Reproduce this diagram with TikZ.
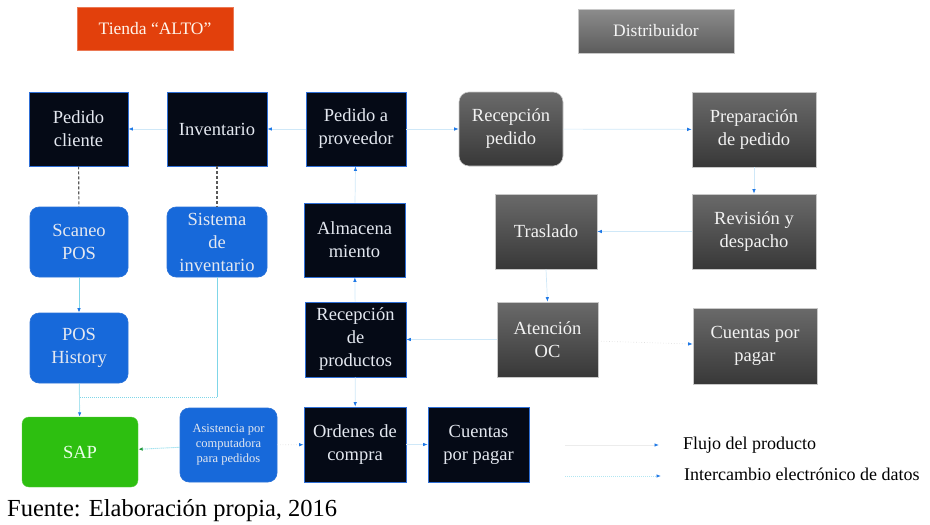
\documentclass[tikz,border=0pt]{standalone}
\usepackage{fontspec}
\setmainfont{Liberation Serif}
\usetikzlibrary{arrows.meta}
\definecolor{navybox}{HTML}{050A16}
\definecolor{navyedge}{HTML}{2F6FD6}
\definecolor{boxtext}{HTML}{E4E8F0}
\definecolor{bluefill}{HTML}{1769DA}
\definecolor{blueedge}{HTML}{2A72D8}
\definecolor{sapgreen}{HTML}{2DBF10}
\definecolor{tiendared}{HTML}{E2400C}
\definecolor{flowline}{HTML}{CFE8F8}
\definecolor{dataline}{HTML}{7FD6E8}
\definecolor{tipblue}{HTML}{1E78E6}
\definecolor{tipgreen}{HTML}{1F9A3A}
\definecolor{grayedge}{HTML}{C8C8C8}
\definecolor{graytop}{HTML}{6A6A6A}
\definecolor{graybot}{HTML}{383838}
\definecolor{disttop}{HTML}{8C8C8C}
\definecolor{distbot}{HTML}{5C5C5C}
\tikzset{
  base/.style={align=center, inner sep=2pt, font=\fontsize{18.5}{23}\selectfont},
  darkbox/.style={base, fill=navybox, draw=navyedge, line width=0.8pt, text=boxtext},
  bluebox/.style={base, fill=bluefill, draw=blueedge, line width=0.6pt, rounded corners=9pt, text=boxtext},
  graybox/.style={base, top color=graytop, bottom color=graybot, draw=grayedge, line width=0.6pt, text=white!90!gray},
  tip/.style={-{Latex[length=4.5pt,width=3.5pt,color=tipblue]}},
  flow/.style={draw=flowline, line width=0.7pt, tip},
  dataline style/.style={draw=dataline, line width=0.9pt, dash pattern=on 1.2pt off 0.8pt},
  data/.style={dataline style, tip},
  link/.style={draw=gray!70!black, line width=1.1pt, dash pattern=on 3pt off 2pt},
}
\begin{document}
\begin{tikzpicture}[x=1pt, y=-1pt]
\useasboundingbox (0,0) rectangle (930,525);

% headers
\node[base, fill=tiendared, draw=tiendared!70!white, text=white!92!orange, minimum width=156pt, minimum height=43pt, font=\fontsize{17.5}{20}\selectfont] (tienda) at (155,28.5) {Tienda “ALTO”};
\node[base, top color=disttop, bottom color=distbot, draw=grayedge, text=white!92!gray, minimum width=156pt, minimum height=44pt, font=\fontsize{17.5}{20}\selectfont] (dist) at (656,31) {Distribuidor};

% store side
\node[darkbox, minimum width=99pt, minimum height=74pt] (pc) at (78.5,129) {Pedido\\cliente};
\node[darkbox, minimum width=100pt, minimum height=74pt] (inv) at (217,129) {Inventario};
\node[darkbox, minimum width=100pt, minimum height=74pt] (pp) at (356,129) {Pedido a\\proveedor};
\node[bluebox, minimum width=98pt, minimum height=70pt] (scan) at (79,242) {Scaneo\\POS};
\node[bluebox, minimum width=100pt, minimum height=70pt] (sis) at (217,242) {Sistema\\de\\inventario};
\node[darkbox, minimum width=101pt, minimum height=74pt] (alm) at (354.5,240) {Almacena\\miento};
\node[bluebox, minimum width=98pt, minimum height=70pt] (posh) at (79,348) {POS\\History};
\node[darkbox, minimum width=101pt, minimum height=75pt] (rdp) at (355.5,339.5) {Recepción\\de\\productos};
\node[base, fill=sapgreen, draw=sapgreen!80!white, rounded corners=7pt, text=white!92!green, minimum width=116pt, minimum height=70pt] (sap) at (80,452) {SAP};
\node[bluebox, minimum width=97pt, minimum height=74pt, font=\fontsize{12.5}{15}\selectfont] (asis) at (228.5,445) {Asistencia por\\computadora\\para pedidos};
\node[darkbox, minimum width=102pt, minimum height=75pt] (oc) at (355,444.5) {Ordenes de\\compra};
\node[darkbox, minimum width=101pt, minimum height=75pt] (cpp2) at (478.5,444.5) {Cuentas\\por pagar};

% distributor side
\node[graybox, rounded corners=10pt, minimum width=104pt, minimum height=74pt] (rp) at (511,129) {Recepción\\pedido};
\node[graybox, minimum width=124pt, minimum height=75pt] (prep) at (754,129.5) {Preparación\\de pedido};
\node[graybox, minimum width=102pt, minimum height=75pt] (tras) at (546,231.5) {Traslado};
\node[graybox, minimum width=124pt, minimum height=75pt] (rev) at (754,231.5) {Revisión y\\despacho};
\node[graybox, minimum width=101pt, minimum height=75pt] (aoc) at (547.5,339.5) {Atención\\OC};
\node[graybox, minimum width=124pt, minimum height=76pt] (cpp1) at (755,346) {Cuentas por\\pagar};

% product flow
\draw[flow] (pp) -- (inv);
\draw[flow] (inv) -- (pc);
\draw[flow] (pp) -- (rp);
\draw[flow] (rp) -- (prep);
\draw[flow] (prep) -- (rev);
\draw[flow] (rev) -- (tras);
\draw[flow] (tras.south) -- (aoc.north);
\draw[flow] (aoc) -- (rdp);
\draw[flow, dotted, draw=gray!25] (aoc) -- (cpp1);
\draw[flow] (rdp) -- (alm);
\draw[flow] (alm) -- (pp);
\draw[flow] (rdp) -- (oc);
\draw[flow] (oc) -- (cpp2);
\draw[flow, dotted, draw=gray!25] (asis) -- (oc);

% electronic data exchange
\draw[link] (pc) -- (scan);
\draw[link] (inv) -- (sis);
\draw[data] (scan) -- (posh);
\draw[data] (posh) -- (sap);
\coordinate (jn) at (79,397);
\draw[dataline style] (sis.south) |- (jn);
\draw[dataline style, -{Latex[length=4.5pt,width=3.5pt,color=tipgreen]}] (asis) -- (sap);

% legend
\coordinate (la1) at (565,445);
\coordinate (lb1) at (659,445);
\coordinate (la2) at (565,476);
\coordinate (lb2) at (661,476);
\draw[draw=gray!15, line width=0.8pt, tip] (la1) -- (lb1);
\draw[draw=dataline!60, line width=0.8pt, dash pattern=on 1.2pt off 0.8pt, tip] (la2) -- (lb2);
\node[anchor=west, inner sep=0pt, font=\fontsize{18}{20}\selectfont] (lg1) at (683,445) {Flujo del producto};
\node[anchor=west, inner sep=0pt, font=\fontsize{18}{20}\selectfont] (lg2) at (684,474) {Intercambio electrónico de datos};

% source
\node[anchor=west, inner sep=0pt, font=\fontsize{24.5}{26}\selectfont] (src) at (7,511) {Fuente: Elaboración propia, 2016};
\end{tikzpicture}
\end{document}
